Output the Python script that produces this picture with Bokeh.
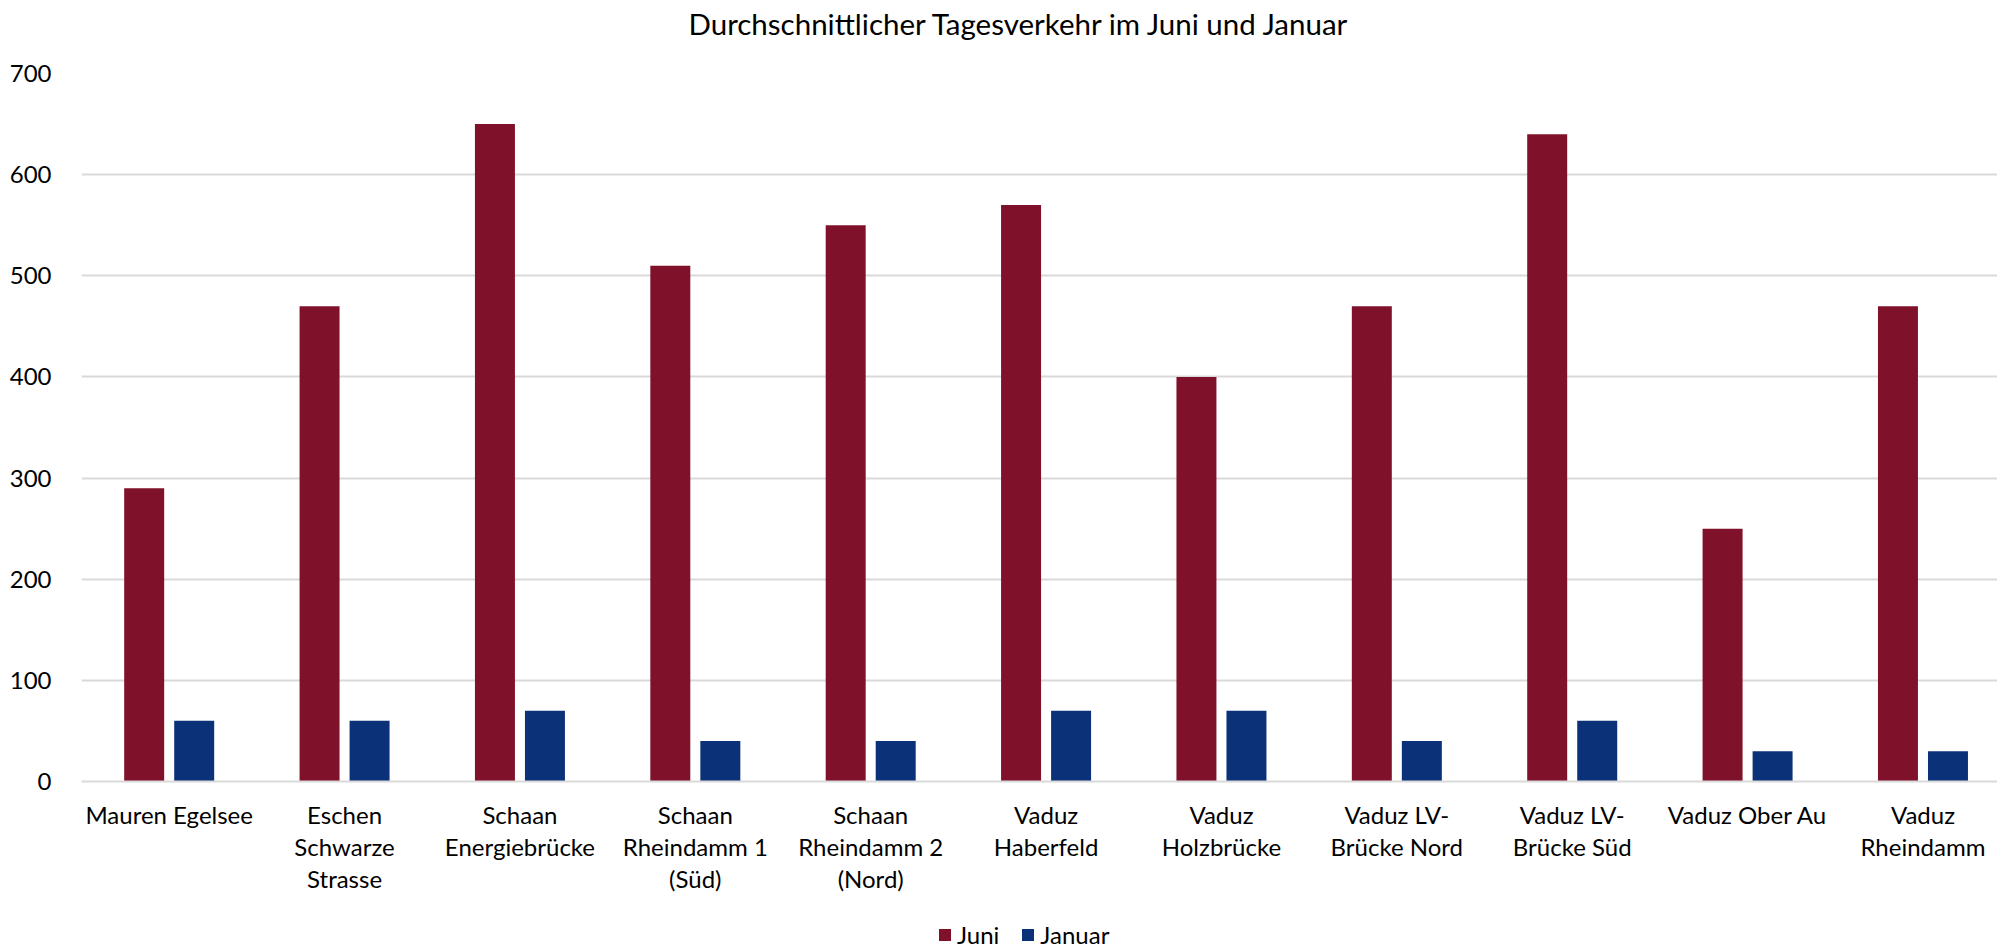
from bokeh.plotting import figure
from bokeh.layouts import column
from bokeh.models import Range1d, FixedTicker, Legend, LegendItem, ColumnDataSource, Title
from bokeh.transform import dodge
from bokeh.embed import file_html
from bokeh.resources import INLINE

# ---- data ----
categories = [
    "Mauren Egelsee",
    "Eschen\nSchwarze\nStrasse",
    "Schaan\nEnergiebrücke",
    "Schaan\nRheindamm 1\n(Süd)",
    "Schaan\nRheindamm 2\n(Nord)",
    "Vaduz\nHaberfeld",
    "Vaduz\nHolzbrücke",
    "Vaduz LV-\nBrücke Nord",
    "Vaduz LV-\nBrücke Süd",
    "Vaduz Ober Au",
    "Vaduz\nRheindamm",
]
juni = [290, 470, 650, 510, 550, 570, 400, 470, 640, 250, 470]
januar = [60, 60, 70, 40, 40, 70, 70, 40, 60, 30, 30]
series_names = ["Juni", "Januar"]
y_ticks = [0, 100, 200, 300, 400, 500, 600, 700]
title_text = "Durchschnittlicher Tagesverkehr im Juni und Januar"

# ---- style ----
FONT = "Lato"
RED = "#80112A"
BLUE = "#0B3278"
GRID = "#D9D9D9"
W = 1997

idx = list(range(len(categories)))
src = ColumnDataSource(dict(x=idx, juni=juni, januar=januar))
xr = Range1d(-0.5, 10.425)

# ---- title strip ----
ts = figure(
    width=W, height=50, x_range=xr, y_range=Range1d(0, 1),
    output_backend="svg", toolbar_location=None,
    x_axis_location=None, y_axis_location=None, min_border=0,
    min_border_left=81, min_border_right=0,
)
ts.outline_line_color = None
ts.grid.visible = False
ts.title = Title(
    text=title_text, align="left", offset=607, standoff=7,
    text_font=FONT, text_font_size="29.5px", text_font_style="normal", text_color="black",
)

# ---- main chart ----
p = figure(
    width=W, height=848,
    x_range=xr, y_range=Range1d(0, 700),
    output_backend="svg", toolbar_location=None,
    min_border_left=81, min_border_right=0, min_border_top=23, min_border_bottom=117,
)
p.title.text = ""
p.outline_line_color = None
p.background_fill_color = "white"
p.border_fill_color = "white"

r1 = p.vbar(x=dodge("x", -0.1426, range=xr), top="juni", width=0.228, source=src,
            fill_color=RED, line_color=None)
r2 = p.vbar(x=dodge("x", 0.1426, range=xr), top="januar", width=0.228, source=src,
            fill_color=BLUE, line_color=None)

# grid
p.xgrid.visible = False
p.ygrid.grid_line_color = GRID
p.ygrid.grid_line_width = 2
p.ygrid.ticker = FixedTicker(ticks=y_ticks)

# y axis
p.yaxis.ticker = FixedTicker(ticks=y_ticks)
p.yaxis.axis_line_color = None
p.yaxis.major_tick_line_color = None
p.yaxis.minor_tick_line_color = None
p.yaxis.major_label_text_font = FONT
p.yaxis.major_label_text_font_size = "24px"
p.yaxis.major_label_text_color = "black"
p.yaxis.major_label_standoff = 24

# x axis
p.xaxis.ticker = FixedTicker(ticks=idx)
p.xaxis.major_label_overrides = {i: c for i, c in zip(idx, categories)}
p.xaxis.axis_line_color = GRID
p.xaxis.axis_line_width = 2
p.xaxis.major_tick_line_color = None
p.xaxis.minor_tick_line_color = None
p.xaxis.major_label_text_font = FONT
p.xaxis.major_label_text_font_size = "24px"
p.xaxis.major_label_text_color = "black"
p.xaxis.major_label_text_line_height = 1.104
p.xaxis.major_label_standoff = 12

# ---- legend strip below the chart ----
lg = figure(
    width=W, height=51, x_range=xr, y_range=Range1d(1000, 1001),
    output_backend="svg", toolbar_location=None,
    x_axis_location=None, y_axis_location=None, min_border=0,
    min_border_left=81, min_border_right=0,
)
lg.outline_line_color = None
lg.grid.visible = False
# same series drawn here only as legend keys (outside the visible range)
g1 = lg.vbar(x=dodge("x", -0.1426, range=xr), top="juni", width=0.228, source=src,
             fill_color=RED, line_color=None)
g2 = lg.vbar(x=dodge("x", 0.1426, range=xr), top="januar", width=0.228, source=src,
             fill_color=BLUE, line_color=None)

legend = Legend(
    items=[LegendItem(label=series_names[0], renderers=[g1]),
           LegendItem(label=series_names[1], renderers=[g2])],
    orientation="horizontal", location=(856, 0),
    glyph_width=15, glyph_height=15, label_standoff=5, spacing=21,
    padding=0, margin=0, border_line_color=None, background_fill_alpha=0,
    label_text_font=FONT, label_text_font_size="24px", label_text_color="black",
    label_text_baseline="alphabetic",
)
lg.add_layout(legend, "center")

open("out.html", "w").write(file_html(column(ts, p, lg, spacing=0), INLINE))
